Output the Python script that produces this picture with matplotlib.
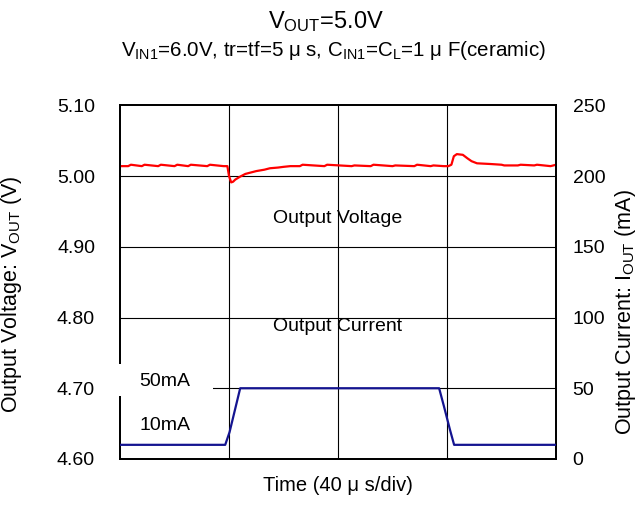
import matplotlib.pyplot as plt
from matplotlib.patches import Rectangle

plt.rcParams['font.family'] = ['Liberation Sans', 'DejaVu Sans']
plt.rcParams['mathtext.fontset'] = 'custom'
plt.rcParams['mathtext.rm'] = 'Liberation Sans'

# time axis in microseconds (40 us/div, 4 div)
t_v = [0, 3, 4, 8, 9, 14, 15, 20, 21, 25, 26, 32, 33, 38, 39.4, 40.0, 40.8, 41.5,
       42.3, 44, 46, 48, 50, 53, 55, 58, 60, 62.5, 66, 67, 75, 76, 85, 86, 92, 93,
       100, 101, 108, 109, 114, 115, 118.8, 120.5, 121.6, 122.5, 123.6, 125.8,
       127.5, 129, 131, 136, 140, 141, 146, 147, 152, 153, 158, 160]
v_out = [5.014, 5.014, 5.016, 5.014, 5.016, 5.014, 5.016, 5.014, 5.016, 5.014, 5.016,
         5.014, 5.016, 5.014, 5.014, 5.000, 4.991, 4.992, 4.995, 4.999, 5.003, 5.005,
         5.007, 5.009, 5.011, 5.012, 5.013, 5.014, 5.014, 5.016, 5.014, 5.016, 5.014,
         5.015, 5.014, 5.016, 5.014, 5.015, 5.014, 5.016, 5.014, 5.015, 5.014, 5.014,
         5.016, 5.028, 5.031, 5.030, 5.025, 5.021, 5.018, 5.017, 5.016, 5.015, 5.015,
         5.016, 5.015, 5.016, 5.014, 5.016]

t_i = [0, 38.6, 40.2, 44.1, 117.1, 118.9, 121.1, 122.6, 160]
i_out = [10, 10, 19, 50, 50, 37, 20.5, 10, 10]

v_ticks = [4.60, 4.70, 4.80, 4.90, 5.00, 5.10]
i_ticks = [0, 50, 100, 150, 200, 250]
t_grid = [40, 80, 120]

fig = plt.figure(figsize=(6.37, 5.08), dpi=100)
ax = fig.add_axes([0.1884, 0.0965, 0.6845, 0.6962])
ax2 = ax.twinx()

ax.set_xlim(0, 160)
ax.set_ylim(4.60, 5.10)
ax2.set_ylim(0, 250)

for x in t_grid:
    ax.axvline(x, color='black', lw=0.8, zorder=1)
for y in v_ticks[1:-1]:
    ax.axhline(y, color='black', lw=0.8, zorder=1)

ax2.plot(t_i, i_out, color='#141490', lw=1.6, zorder=3)
ax.plot(t_v, v_out, color='#ff0000', lw=1.6, zorder=3)

ax.set_xticks([])
ax.set_yticks(v_ticks)
ax.set_yticklabels([f"{v:.2f}" for v in v_ticks])
ax2.set_yticks(i_ticks)
ax.tick_params(axis='y', length=0, pad=18, labelsize=14)
ax2.tick_params(axis='y', length=0, pad=12, labelsize=14)

for a in (ax, ax2):
    for s in a.spines.values():
        s.set_linewidth(1.3)

ax.set_ylabel(r"Output Voltage: $\mathregular{V_{OUT}}$ (V)", fontsize=15.5)
ax.yaxis.set_label_coords(-0.221, 0.465)
ax2.set_ylabel(r"Output Current: $\mathregular{I_{OUT}}$ (mA)", fontsize=15.5)
ax2.yaxis.set_label_coords(1.131, 0.415)
ax.set_xlabel("Time (40 μ s/div)", fontsize=14.5, labelpad=12)

ax.text(0.5, 0.681, "Output Voltage", transform=ax.transAxes, ha='center',
        va='center', fontsize=14, zorder=5)
ax.text(0.5, 0.374, "Output Current", transform=ax.transAxes, ha='center',
        va='center', fontsize=14, zorder=5)

# white patch behind the 50mA label (hides spine and grid there)
ax2.add_patch(Rectangle((-0.01, 0.178), 0.224, 0.09, transform=ax.transAxes,
                        facecolor='white', edgecolor='none', zorder=4, clip_on=False))
ax2.text(0.103, 0.218, "50mA", transform=ax.transAxes, ha='center', va='center',
         fontsize=14, zorder=6)
ax2.text(0.103, 0.096, "10mA", transform=ax.transAxes, ha='center', va='center',
         fontsize=14, zorder=6)

fig.text(0.512, 0.958, r"$\mathregular{V_{OUT}}$=5.0V", ha='center', va='center', fontsize=17)
fig.text(0.523, 0.900,
         r"$\mathregular{V_{IN1}}$=6.0V, tr=tf=5 μ s, $\mathregular{C_{IN1}}$=$\mathregular{C_{L}}$=1 μ F(ceramic)",
         ha='center', va='center', fontsize=14.8)

fig.savefig("out.png", dpi=100)
